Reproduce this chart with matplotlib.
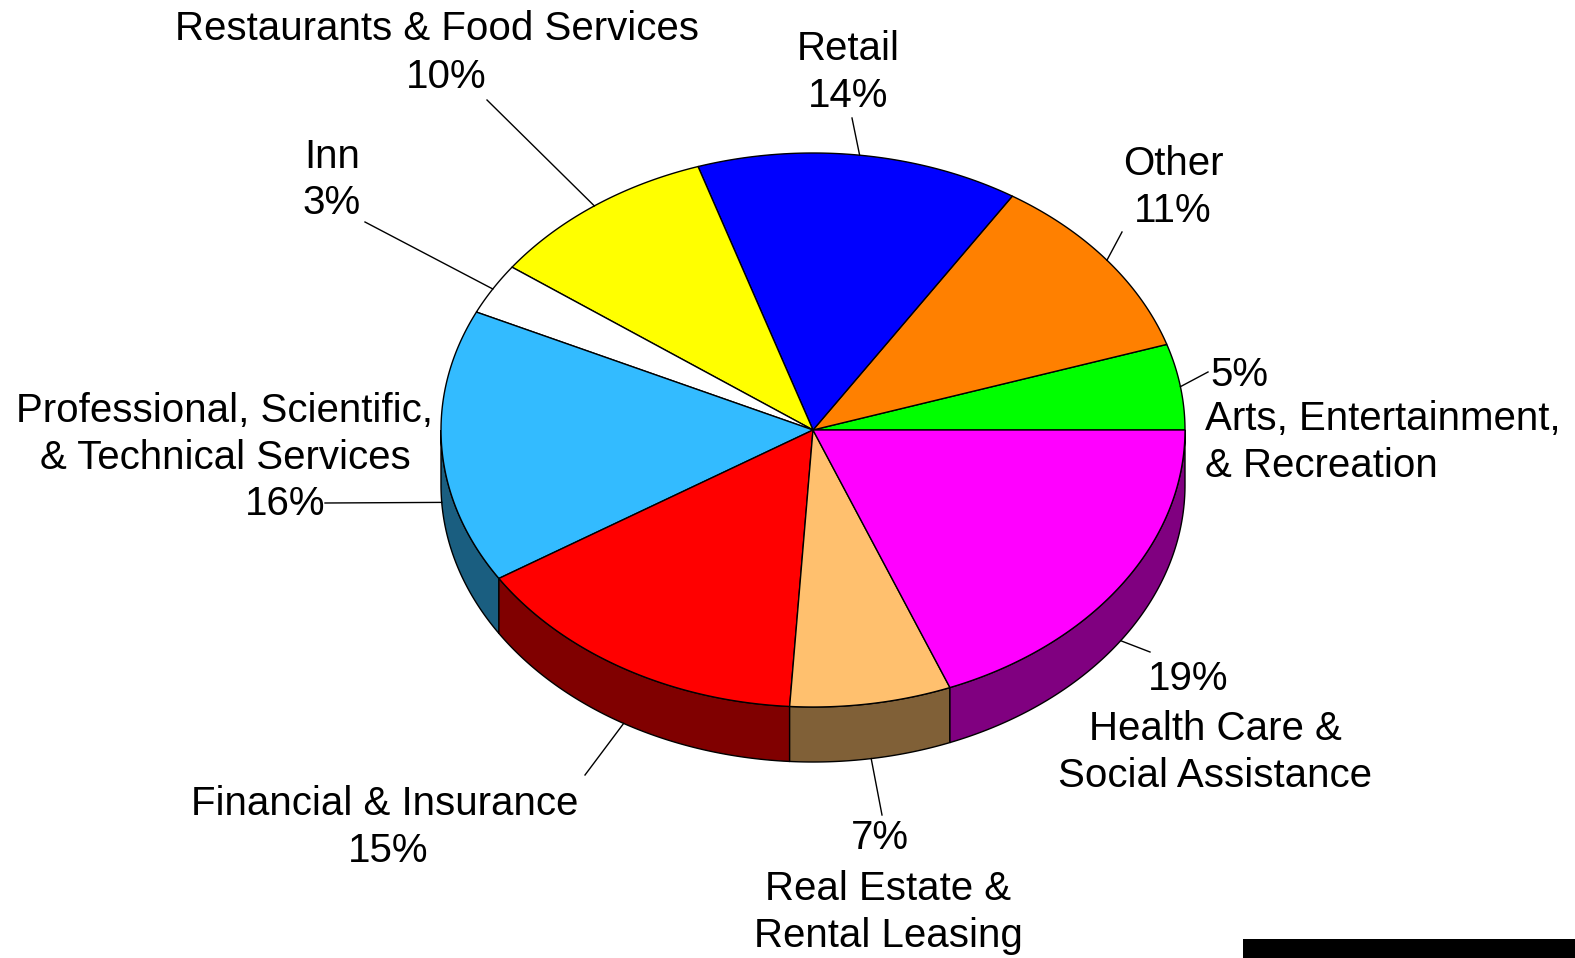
import matplotlib.pyplot as plt
import numpy as np
from matplotlib.patches import Polygon, Rectangle

# Slices in drawing order, counter-clockwise from 3 o'clock
categories = [
    "Arts, Entertainment,\n& Recreation",
    "Other",
    "Retail",
    "Restaurants & Food Services",
    "Inn",
    "Professional, Scientific,\n& Technical Services",
    "Financial & Insurance",
    "Real Estate &\nRental Leasing",
    "Health Care &\nSocial Assistance",
]
shares = [5, 11, 14, 10, 3, 16, 15, 7, 19]
top_colors = [
    "#00ff00", "#ff8000", "#0000ff", "#ffff00", "#ffffff",
    "#33bbff", "#ff0000", "#ffc06e", "#ff00ff",
]

# Label layout in pixels (x, baseline y of the last line)
name_pos = [(1205, 477), (1173, 175), (848, 60), (437, 40), (332, 168),
            (225, 469), (385, 815), (888, 947), (1215, 787)]
name_ha = ["left", "center", "center", "center", "center",
           "center", "center", "center", "center"]
pct_pos = [(1210, 386), (1173, 222), (848, 107), (446, 88), (332, 214),
           (285, 515), (388, 862), (880, 849), (1188, 690)]
pct_ha = ["left", "center", "center", "center", "center",
          "center", "center", "center", "center"]
leader_end = [(1208, 372), (1122, 232), (852, 118), (487, 100), (365, 222),
              (325, 503), (585, 775), (882, 815), (1150, 652)]

W, H = 1575, 958
cx, cy = 813, 430
rx, ry = 372, 277
depth = 55


def arc(t0, t1, dy=0.0, n=120):
    t = np.linspace(t0, t1, n)
    return np.column_stack([cx + rx * np.cos(t), cy - ry * np.sin(t) + dy])


def darker(color, f=0.5):
    r, g, b = plt.matplotlib.colors.to_rgb(color)
    return (r * f, g * f, b * f)


def main() -> None:
    fig = plt.figure(figsize=(W / 100, H / 100), dpi=100)
    ax = fig.add_axes([0, 0, 1, 1])
    ax.set_xlim(0, W)
    ax.set_ylim(H, 0)
    ax.axis("off")

    fracs = np.array(shares, dtype=float) / sum(shares)
    bounds = np.concatenate([[0], np.cumsum(fracs)]) * 2 * np.pi

    # Seitenwände nur für die vordere Hälfte (pi .. 2pi)
    for i, color in enumerate(top_colors):
        t0 = max(bounds[i], np.pi)
        t1 = min(bounds[i + 1], 2 * np.pi)
        if t1 <= t0:
            continue
        pts = np.vstack([arc(t0, t1), arc(t0, t1, depth)[::-1]])
        ax.add_patch(Polygon(pts, closed=True, facecolor=darker(color),
                             edgecolor="black", linewidth=1, zorder=1))

    # Deckflächen
    for i, color in enumerate(top_colors):
        pts = np.vstack([[cx, cy], arc(bounds[i], bounds[i + 1])])
        ax.add_patch(Polygon(pts, closed=True, facecolor=color,
                             edgecolor="black", linewidth=1, zorder=2))

    font = dict(family="Liberation Sans", fontsize=29, color="black")
    for i, name in enumerate(categories):
        mid = (bounds[i] + bounds[i + 1]) / 2
        ax_x = cx + rx * np.cos(mid)
        ax_y = cy - ry * np.sin(mid) + (depth if np.sin(mid) < 0 else 0)
        ex, ey = leader_end[i]
        ax.plot([ex, ax_x], [ey, ax_y], color="black", linewidth=1, zorder=3)

        ax.text(name_pos[i][0], name_pos[i][1], name, ha=name_ha[i],
                va="baseline", multialignment=name_ha[i], linespacing=1.3,
                **font)
        ax.text(pct_pos[i][0], pct_pos[i][1], f"{shares[i]}%", ha=pct_ha[i],
                va="baseline", **font)

    ax.add_patch(Rectangle((1243, 939), W - 1243, H - 939, facecolor="black",
                           edgecolor="none", clip_on=False, zorder=4))

    fig.savefig("out.png", dpi=100)


if __name__ == "__main__":
    main()
